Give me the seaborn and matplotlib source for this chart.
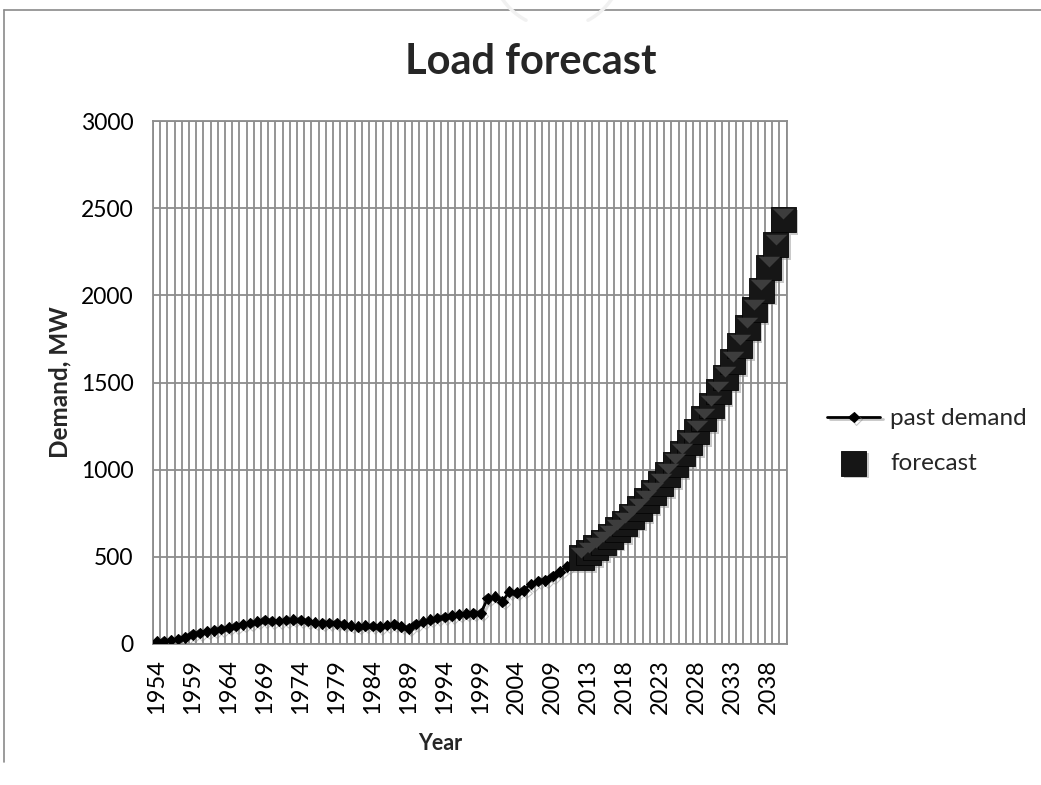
import numpy as np
import pandas as pd
import matplotlib
matplotlib.use("Agg")
import matplotlib.pyplot as plt
import matplotlib.patheffects as pe
from matplotlib.path import Path
import seaborn as sns

# ---- data -------------------------------------------------------------
past_years = list(range(1954, 2013))
past_demand = [13, 18, 22, 28, 38, 55, 64, 72, 78, 85,
               94, 103, 112, 120, 129, 137, 131, 133, 137, 140,
               137, 131, 123, 119, 121, 118, 112, 105, 100, 106,
               104, 99, 108, 113, 100, 90, 115, 128, 140, 150,
               155, 162, 170, 174, 176, 176, 262, 272, 243, 300,
               295, 308, 344, 362, 365, 390, 415, 445, 470]

forecast_years = list(range(2012, 2041))
forecast_demand = [495, 523, 553, 585, 619, 655, 693, 733, 776, 821,
                   869, 920, 973, 1030, 1090, 1153, 1220, 1291, 1366, 1446,
                   1530, 1619, 1713, 1813, 1918, 2030, 2160, 2290, 2435]

year_labels = [str(y) for y in past_years + forecast_years]
label_step = 5
y_ticks = [0, 500, 1000, 1500, 2000, 2500, 3000]

# category positions along the x axis
past_df = pd.DataFrame({"pos": np.arange(len(past_years)), "demand": past_demand})
fc_df = pd.DataFrame({"pos": np.arange(len(past_years), len(year_labels)),
                      "demand": forecast_demand})

# ---- style ------------------------------------------------------------
sns.set_theme(style="white")
plt.rcParams["font.family"] = ["Lato", "DejaVu Sans"]
grid_col = "#8c8c8c"

fig = plt.figure(figsize=(10.41, 7.85), dpi=100)
ax = fig.add_axes([153 / 1041, 1 - 644 / 785, 633.6 / 1041, 523 / 785])

shadow = [pe.SimplePatchShadow(offset=(2.0, -2.0), shadow_rgbFace="#8a8a8a", alpha=0.45),
          pe.Normal()]
line_shadow = [pe.SimpleLineShadow(offset=(1.8, -1.8), shadow_color="#808080", alpha=0.45),
               pe.Normal()]

sns.lineplot(data=past_df, x="pos", y="demand", ax=ax, color="black",
             linewidth=2.0, marker="D", markersize=5.4, markeredgecolor="black",
             label="past demand", zorder=3, path_effects=line_shadow)

marker_side = 18
sns.scatterplot(data=fc_df, x="pos", y="demand", ax=ax, marker="s", s=marker_side ** 2,
                color="#161616", edgecolor="#050505", linewidth=0.6,
                label="forecast", zorder=4, clip_on=False)
ax.collections[-1].set_path_effects(shadow)

# bevel highlight on the upper face of each square marker
bevel = Path([(-1, 1), (1, 1), (0, 0), (-1, 1)],
             [Path.MOVETO, Path.LINETO, Path.LINETO, Path.CLOSEPOLY])
sns.scatterplot(data=fc_df, x="pos", y="demand", ax=ax, marker=bevel,
                s=(marker_side * 0.86) ** 2, color="#3d3d3d", linewidth=0,
                legend=False, zorder=5, clip_on=False)

# ---- axes -------------------------------------------------------------
n_cat = len(year_labels)
ax.set_xlim(-0.5, n_cat - 0.5)
ax.set_ylim(0, 3000)

ax.set_xticks(np.arange(-0.5, n_cat, 1.0))
ax.set_xticklabels([])
ax.set_xticks(np.arange(0, n_cat, label_step), minor=True)
ax.set_xticklabels(year_labels[::label_step], minor=True, rotation=90,
                   fontsize=17, color="black")
ax.tick_params(axis="x", which="major", direction="out", length=8,
               width=1.3, color=grid_col)
ax.tick_params(axis="x", which="minor", length=0, pad=11)

ax.set_yticks(y_ticks)
ax.set_yticklabels([str(v) for v in y_ticks], fontsize=16.5, color="black")
ax.tick_params(axis="y", direction="out", length=6, width=1.3, color=grid_col, pad=8)

ax.grid(True, which="major", color=grid_col, linewidth=1.3)
for side in ax.spines:
    ax.spines[side].set_visible(True)
    ax.spines[side].set_color(grid_col)
    ax.spines[side].set_linewidth(1.3)

ax.set_xlabel("Year", fontsize=15.5, fontweight="bold")
ax.set_ylabel("Demand, MW", fontsize=17.5, fontweight="bold")
ax.xaxis.set_label_coords(0.453, -0.170)
ax.yaxis.set_label_coords(-0.128, 0.5)

leg = ax.legend(loc="center left", bbox_to_anchor=(827 / 1041, 1 - 441 / 785),
                bbox_transform=fig.transFigure, frameon=False, fontsize=17.5,
                handlelength=2.2, handletextpad=0.4, labelspacing=0.95,
                borderpad=0, borderaxespad=0)

fig.text(531 / 1041, 1 - 62 / 785, "Load forecast", ha="center", va="center",
         fontsize=30, fontweight="bold")

# ---- page frame and faint stamp behind the chart ------------------------
bg = fig.add_axes([0, 0, 1, 1], zorder=-1)
bg.set_xlim(0, 1041)
bg.set_ylim(785, 0)
bg.axis("off")
bg.plot([4, 4], [10, 762], color="#8a8a8a", linewidth=1.2)
bg.plot([4, 1041], [10, 10], color="#8a8a8a", linewidth=1.2)
for a0, a1 in [(118, 150), (30, 62)]:
    t = np.radians(np.linspace(a0, a1, 40))
    bg.plot(557 + 66 * np.cos(t), -38 + 66 * np.sin(t), color="#f1f1f1",
            linewidth=2.5, solid_capstyle="round")

fig.savefig("out.png", dpi=100)
